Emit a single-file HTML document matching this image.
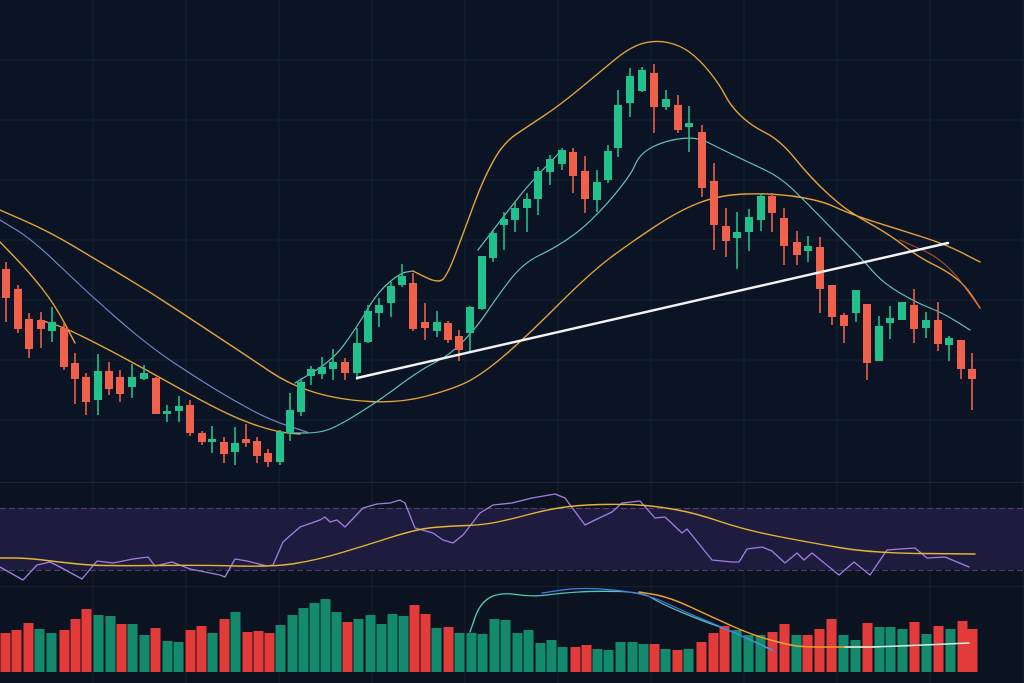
<!DOCTYPE html>
<html><head><meta charset="utf-8"><style>
html,body{margin:0;padding:0;background:#0b1424;}
svg{display:block}
</style></head><body>
<svg id="s" width="1024" height="683" viewBox="0 0 1024 683" xmlns="http://www.w3.org/2000/svg">
<rect width="1024" height="683" fill="#0b1424"/>
<rect y="482" width="1024" height="201" fill="#0c1320"/>
<g id="grid" stroke="#16222f" stroke-width="1"></g>
<rect x="0" y="508" width="1024" height="62" fill="#1e1c3e"/>
<line x1="0" y1="508.5" x2="1024" y2="508.5" stroke="#5a3f78" stroke-width="1" stroke-dasharray="6 3"/>
<line x1="0" y1="570.5" x2="1024" y2="570.5" stroke="#4a3f68" stroke-width="1" stroke-dasharray="6 3"/>
<line x1="0" y1="482.5" x2="1024" y2="482.5" stroke="#1c2838" stroke-width="1"/>
<line x1="0" y1="586.5" x2="1024" y2="586.5" stroke="#161f2c" stroke-width="1"/>
<g id="vol"></g>
<g id="lines" fill="none" stroke-linecap="round" stroke-linejoin="round"></g>
<g id="candles"></g>
<line x1="357" y1="378" x2="948" y2="243" stroke="#f2f2f2" stroke-width="2.5" stroke-linecap="round"/>
</svg>
<script>
const NS="http://www.w3.org/2000/svg";
function el(p,t,a){const e=document.createElementNS(NS,t);for(const k in a)e.setAttribute(k,a[k]);document.getElementById(p).appendChild(e);return e;}
for(let x=93;x<1024;x+=93)el("grid","line",{x1:x,y1:0,x2:x,y2:683});
for(let y=60;y<480;y+=60)el("grid","line",{x1:0,y1:y,x2:1024,y2:y});
// candles: x, bodyTop, bodyBot, wickTop, wickBot, green?
const C=[
[6,269,298,262,322,0],[18,289,329,285,333,0],[29,319,349,313,358,0],[41,320,329,312,348,0],[52,322,331,307,342,1],
[64,328,367,323,370,0],[75,363,379,353,404,0],[86,377,402,373,415,0],[98,371,400,354,415,1],[109,371,389,362,395,0],
[120,377,394,370,402,0],[132,377,387,364,398,1],[144,373,379,365,380,1],[156,378,414,377,414,0],[167,411,414,405,422,1],
[179,406,411,396,422,1],[190,405,433,400,436,0],[202,433,442,431,445,0],[212,439,442,426,453,1],[224,442,454,437,463,0],
[235,443,452,427,465,1],[246,439,443,424,447,0],[257,441,456,437,463,0],[268,453,462,449,467,0],[280,432,462,430,465,1],
[290,410,433,393,441,1],[301,382,412,378,416,1],[311,369,376,366,385,1],[322,367,374,357,379,1],[333,362,369,349,380,1],
[345,362,373,358,380,0],[357,343,373,328,380,1],[368,311,342,305,343,1],[379,305,313,298,327,1],[391,286,303,282,317,1],
[402,276,285,264,287,1],[413,283,329,273,331,0],[425,322,328,303,340,0],[437,322,331,311,337,1],[448,323,340,321,343,0],
[459,336,350,330,361,0],[470,307,333,306,352,1],[482,256,309,256,310,1],[493,233,258,230,262,1],[504,219,225,212,250,1],
[515,208,220,202,232,1],[527,199,208,193,232,1],[538,171,199,167,215,1],[550,159,172,155,185,1],[562,150,164,148,170,1],
[573,152,176,148,193,0],[585,171,199,156,213,0],[597,182,200,170,212,1],[608,151,180,145,183,1],[618,105,148,90,157,1],
[630,76,103,68,117,1],[642,70,91,67,92,1],[654,73,107,64,133,0],[666,99,107,90,110,1],[678,105,130,95,133,0],
[689,123,127,106,152,1],[702,132,188,125,197,0],[714,181,225,163,250,0],[726,226,241,208,257,0],[737,232,238,212,269,1],
[749,217,232,209,251,1],[761,196,220,193,231,1],[772,196,213,193,232,0],[784,218,246,208,265,0],[797,242,255,231,265,0],
[808,246,251,236,262,1],[820,247,289,237,313,0],[832,285,317,285,325,0],[844,315,326,313,343,0],[856,290,313,290,322,1],
[867,304,363,304,380,0],[879,326,361,316,361,1],[890,318,323,306,339,1],[902,302,320,302,320,1],[914,305,329,289,343,0],
[926,320,328,312,338,1],[938,320,344,302,351,0],[949,338,345,336,361,1],[961,340,369,340,379,0],[972,369,379,353,410,0]];
for(const c of C){const col=c[5]?"#22c08a":"#f0604a";
el("candles","line",{x1:c[0],y1:c[3],x2:c[0],y2:c[4],stroke:col,"stroke-width":1.6});
el("candles","rect",{x:c[0]-4,y:c[1],width:8,height:Math.max(2,c[2]-c[1]),fill:col});}
// volume
const V=[[0,633,0],[11,630,0],[23,623,0],[34,629,1],[46,633,1],[59,630,0],[70,619,0],[81,609,0],[93,615,1],[105,616,1],
[116,624,0],[127,624,1],[139,635,1],[150,628,0],[162,641,1],[173,642,1],[185,630,0],[196,626,0],[207,633,1],[219,619,0],
[230,612,1],[242,632,0],[253,631,0],[264,633,0],[275,625,1],[287,615,1],[298,608,1],[309,603,1],[320,599,1],[331,612,1],
[342,622,0],[353,619,1],[365,615,1],[376,624,1],[387,614,1],[398,616,1],[409,605,0],[420,614,0],[431,628,1],[443,627,0],
[454,633,1],[466,633,1],[477,634,1],[489,619,1],[500,620,1],[512,633,1],[523,630,1],[535,643,1],[546,640,1],[557,647,1],
[570,647,0],[581,645,0],[592,649,1],[603,650,1],[615,642,1],[627,642,1],[638,644,1],[649,644,0],[660,649,1],[672,650,0],
[683,649,1],[696,642,0],[708,633,0],[719,626,0],[731,630,1],[743,635,1],[755,635,1],[767,632,0],[779,624,0],[791,635,1],
[802,635,0],[814,629,0],[826,619,0],[838,635,1],[850,640,1],[862,623,0],[874,627,1],[885,627,1],[897,629,1],[909,622,0],
[921,634,1],[933,626,0],[945,629,1],[957,621,0],[967,629,0]];
for(const v of V)el("vol","rect",{x:v[0]+0.5,y:v[1],width:10,height:672-v[1],fill:v[2]?"#138a6c":"#e23b3a"});
function path(pts,col,w,op){let d="M"+pts[0][0]+","+pts[0][1];
for(let i=1;i<pts.length;i++){const p0=pts[i-1],p1=pts[i];const mx=(p0[0]+p1[0])/2;d+=" Q"+p0[0]+","+p0[1]+" "+mx+","+(p0[1]+p1[1])/2;}
const l=pts[pts.length-1];d+=" L"+l[0]+","+l[1];
el("lines","path",{d:d,stroke:col,"stroke-width":w||1.3,opacity:op||1});}
function poly(pts,col,w){el("lines","polyline",{points:pts.map(p=>p.join(",")).join(" "),stroke:col,"stroke-width":w||1.3});}
// main overlays
path([[0,210],[50,232],[100,262],[150,292],[200,325],[250,358],[290,385],[340,400],[400,403],[450,390],[480,376],[523,340],[590,273],[630,243],[680,210],[720,195],[770,193],[820,200],[850,214],[900,230],[945,244],[980,262]],"#e5a23a",1.4);
path([[0,242],[30,273],[55,305],[75,343]],"#e5a23a",1.4);
path([[40,320],[63,327],[100,345],[150,372],[200,400],[240,420],[277,432],[300,434]],"#e5a23a",1.4);
path([[0,220],[33,240],[90,295],[150,347],[200,380],[233,400],[270,420],[307,432]],"#6f86c8",1.2);
path([[290,433],[320,433],[340,425],[380,400],[420,370],[450,355],[477,327],[497,297],[523,263],[557,247],[590,223],[630,177],[640,153],[667,140],[697,137],[717,147],[750,163],[780,177],[807,203],[833,230],[863,260],[883,283],[917,303],[943,313],[970,330]],"#63c3b9",1.2);
path([[295,383],[333,360],[357,327],[377,293],[400,273],[413,271]],"#63c3b9",1.2);
path([[478,250],[507,212],[530,183],[560,152]],"#63c3b9",1.2);
path([[413,271],[437,283],[447,277],[467,223],[483,180],[503,143],[530,125],[560,105],[600,72],[630,47],[655,40],[680,45],[700,60],[720,85],[730,105],[750,125],[780,140],[810,177],[840,205],[860,218],[890,235],[920,258],[945,270],[965,285],[980,308]],"#e5a23a",1.4);
path([[900,240],[945,260],[980,308]],"#e0623a",1.2,0.7);
// RSI
poly([[0,567],[23,580],[37,565],[50,562],[60,567],[82,579],[97,561],[113,563],[133,559],[148,557],[155,566],[172,562],[190,569],[220,575],[225,577],[235,559],[247,561],[267,566],[273,565],[283,542],[300,527],[320,520],[325,517],[330,522],[337,520],[345,527],[363,508],[377,504],[390,503],[400,500],[405,503],[415,528],[433,533],[443,540],[453,543],[463,535],[480,513],[493,505],[512,503],[532,498],[555,494],[565,498],[585,525],[595,520],[612,512],[622,503],[640,501],[655,518],[665,517],[682,533],[687,529],[712,560],[732,562],[739,562],[747,549],[762,547],[772,551],[785,563],[797,553],[804,560],[812,553],[839,575],[854,562],[870,575],[887,550],[900,549],[915,548],[927,558],[945,557],[969,567]],"#a27de0",1.3);
path([[0,558],[27,558],[67,563],[100,566],[200,565],[273,567],[317,560],[367,545],[417,529],[450,526],[483,525],[512,519],[545,510],[579,505],[622,504],[655,506],[695,513],[745,530],[812,543],[872,553],[975,554]],"#e3b532",1.4);
// volume panel lines
path([[470,632],[480,603],[500,592],[532,597],[562,593],[595,591],[642,592],[662,604],[700,620],[729,630],[772,650]],"#4fc8c0",1.3);
path([[542,593],[582,587],[645,593],[685,612],[729,630],[775,652]],"#4a7be0",1.2);
path([[639,592],[669,597],[712,617],[752,635],[789,645],[805,647],[845,647],[879,647]],"#f0a030",1.5);
path([[845,647],[879,647],[969,643]],"#d8f0ea",1.5);
</script>
</body></html>
